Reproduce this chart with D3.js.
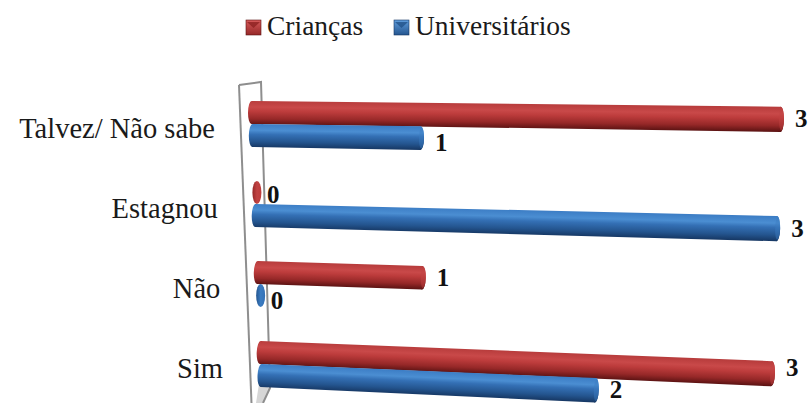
<!DOCTYPE html>
<html><head><meta charset="utf-8">
<script src="https://cdn.jsdelivr.net/npm/d3@7"></script>
<style>
html,body{margin:0;padding:0;background:#fff;} svg{display:block;}
.serif{font-family:"Liberation Serif","Times New Roman",Times,"Nimbus Roman","DejaVu Serif",serif;}
</style>
</head><body>
<svg id="chart" width="811" height="403"></svg>
<script>
// Data
const categories = ["Talvez/ Não sabe", "Estagnou", "Não", "Sim"];
const seriesNames = ["Crianças", "Universitários"];
const criancas = [3, 0, 1, 3];
const universitarios = [1, 3, 0, 2];
const valueDomain = [0, 3];

const svg = d3.select("#chart");
const defs = svg.append("defs");

// Cylinder shading, one gradient per series
const palette = {
  "Crianças": {stops: ["#b63b3b", "#c94949", "#bd3c3c", "#962828", "#5a1212"], cap: "#c04242", legendDark: "#8a1f1f", legendLight: "#d65a5a"},
  "Universitários": {stops: ["#3b7cc4", "#4b8ed2", "#3470b5", "#24558f", "#163763"], cap: "#3b7cc2", legendDark: "#1f4f86", legendLight: "#5f9ddd"}
};
seriesNames.forEach((s, i) => {
  const g = defs.append("linearGradient").attr("id", "cyl" + i)
    .attr("x1", 0).attr("y1", 0).attr("x2", 0).attr("y2", 1);
  [0, 0.28, 0.45, 0.75, 1].forEach((o, k) =>
    g.append("stop").attr("offset", o).attr("stop-color", palette[s].stops[k]));
  const c = defs.append("linearGradient").attr("id", "cap" + i)
    .attr("x1", 0).attr("y1", 0).attr("x2", 1).attr("y2", 0);
  c.append("stop").attr("offset", 0).attr("stop-color", palette[s].stops[3]);
  c.append("stop").attr("offset", 0.5).attr("stop-color", palette[s].cap);
  c.append("stop").attr("offset", 1).attr("stop-color", palette[s].stops[2]);
});

// Row scales: category band, then series inside each band
const y = d3.scaleBand().domain(categories).range([101, 387]).paddingInner(0.425);
const ySeries = d3.scaleBand().domain(seriesNames).range([0, y.bandwidth()]);

// Perspective: start/end of the value axis and tilt change with depth row
const xStart = d3.scaleLinear().domain([112.5, 352.5]).range([251.5, 260.2]);
const xFull = d3.scaleLinear().domain([112.5, 352.5]).range([780.5, 771.5]);
const frac = d3.scalePow().exponent(1.04).domain(valueDomain).range([0, 1]);
const slope = d3.scaleLinear().domain([112.5, 352.5]).range([0.013, 0.0415]);
const labelX = d3.scaleLinear().domain([124, 364]).range([215, 223]);

// Back wall
svg.append("path").attr("d", "M259,384 L270,388 L263,403 L256,403 Z").attr("fill", "#d6d6d6");
const wall = svg.append("g").attr("fill", "none").attr("stroke", "#8e8e8e").attr("stroke-width", 2);
wall.append("path").attr("d", "M239,85 L251.5,403");
wall.append("path").attr("d", "M239,85 L261,82 L270,388 L263,403");

// Category labels
svg.append("g").selectAll("text").data(categories).join("text")
  .attr("class", "serif")
  .attr("x", d => labelX(y(d) + y.bandwidth() / 2))
  .attr("y", d => y(d) + y.bandwidth() / 2 + 13.5)
  .attr("text-anchor", "end")
  .attr("font-size", 28.5).attr("fill", "#1a1a1a")
  .text(d => d);

// Bars
const rows = [];
categories.forEach((c, i) => {
  [criancas, universitarios].forEach((vals, s) => {
    rows.push({cat: c, series: seriesNames[s], si: s, value: vals[i]});
  });
});

const h0 = ySeries.bandwidth() / 2;
const rx = 3.5;
rows.forEach(d => {
  const cy = y(d.cat) + ySeries(d.series) + h0;
  const x0 = xStart(cy);
  const dx = frac(d.value) * (xFull(cy) - x0);
  const tilt = slope(cy) * dx;
  const len = Math.hypot(dx, tilt);
  const ang = Math.atan2(tilt, dx) * 180 / Math.PI;
  const h1 = h0 * (1 + 0.00018 * len);
  d.geom = {cy, x0, dx, tilt, len, h1};
  const g = svg.append("g").attr("transform", `translate(${x0},${cy}) rotate(${ang})`);
  if (d.value > 0) {
    g.append("path")
      .attr("d", `M0,${-h0} L${len},${-h1} A${rx},${h1} 0 0 1 ${len},${h1} L0,${h0} A${rx},${h0} 0 0 1 0,${-h0} Z`)
      .attr("fill", `url(#cyl${d.si})`);
    g.append("ellipse").attr("cx", len).attr("cy", 0).attr("rx", rx).attr("ry", h1)
      .attr("fill", `url(#cyl${d.si})`).attr("opacity", 0.9);
    g.append("ellipse").attr("cx", len + 0.8).attr("cy", 0).attr("rx", rx - 1.2).attr("ry", h1 - 1.5)
      .attr("fill", palette[d.series].cap).attr("opacity", 0.45);
  } else {
    g.append("ellipse").attr("cx", 2.5).attr("cy", 0).attr("rx", 4.5).attr("ry", h0)
      .attr("fill", `url(#cap${d.si})`);
  }
});

// Value labels
svg.append("g").selectAll("text").data(rows).join("text")
  .attr("class", "serif")
  .attr("x", d => d.geom.x0 + d.geom.dx + rx + (d.value > 0 ? 11 : 9))
  .attr("y", d => d.geom.cy + 0.6 * d.geom.tilt + (d.si === 0 ? 2 : 5))
  .attr("dy", "0.35em")
  .attr("font-weight", "bold").attr("font-size", 25).attr("fill", "#111")
  .text(d => d.value);

// Legend
const legend = svg.append("g");
const legendX = [246, 394];
const legendTextX = [267, 415];
seriesNames.forEach((s, i) => {
  const lg = defs.append("linearGradient").attr("id", "leg" + i)
    .attr("x1", 0).attr("y1", 0).attr("x2", 0).attr("y2", 1);
  lg.append("stop").attr("offset", 0).attr("stop-color", palette[s].legendLight);
  lg.append("stop").attr("offset", 1).attr("stop-color", palette[s].stops[3]);
  const item = legend.append("g").attr("transform", `translate(${legendX[i]},20)`);
  item.append("rect").attr("width", 15).attr("height", 15).attr("fill", `url(#leg${i})`);
  item.append("path").attr("d", "M1,2 L14,2 L7.5,8 Z").attr("fill", palette[s].legendDark).attr("opacity", 0.75);
  item.append("rect").attr("width", 15).attr("height", 15).attr("fill", "none")
    .attr("stroke", palette[s].stops[4]).attr("stroke-width", 0.6);
  legend.append("text").attr("class", "serif").attr("x", legendTextX[i]).attr("y", 35)
    .attr("font-size", 27.5).attr("fill", "#1a1a1a").text(s);
});
</script>
</body></html>
